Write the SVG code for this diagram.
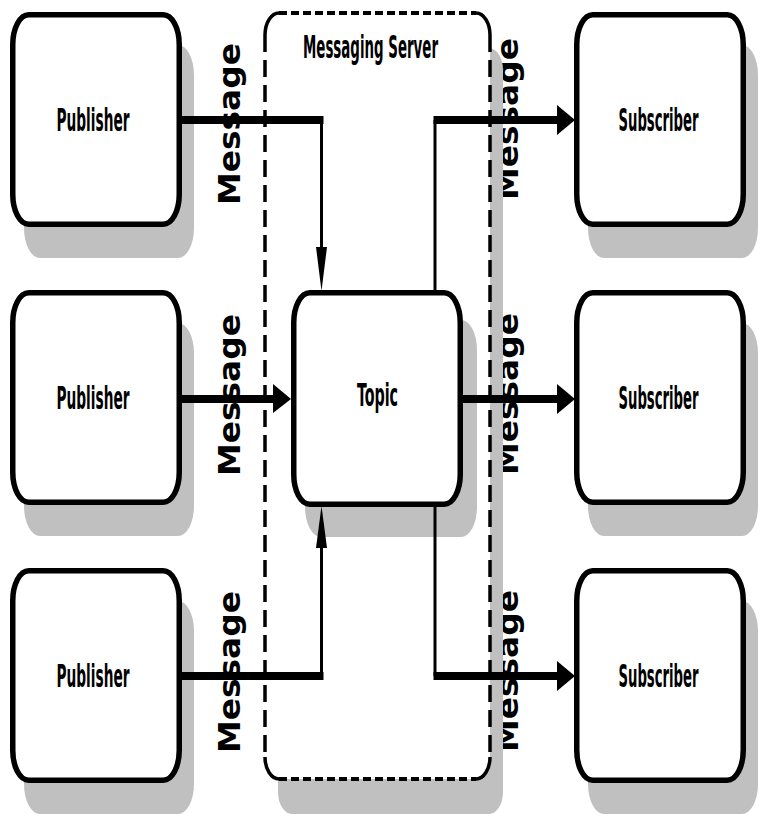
<svg xmlns="http://www.w3.org/2000/svg" width="772" height="831" viewBox="0 0 772 831">
<style>
.shadow{fill:#c0c0c0}
.box{fill:#fff;stroke:#000;stroke-width:5.5}
.lbl{font-family:"DejaVu Sans Condensed","Liberation Sans",Arial,sans-serif;font-stretch:condensed;font-weight:bold;font-size:32px;text-anchor:middle;fill:#000}
.msg{font-family:"DejaVu Sans",Verdana,sans-serif;font-weight:bold;font-size:30px;text-anchor:middle;fill:#000}
.thick{stroke:#000;stroke-width:8;fill:none}
.thin{stroke:#000;stroke-width:3;fill:none}
.ah{fill:#000}
.dots{stroke:#000;stroke-width:4;stroke-dasharray:8 4;fill:none}
.dash{stroke:#000;stroke-width:3.5;stroke-dasharray:17 8;fill:none}
.corner{stroke:#000;stroke-width:3.5;fill:none}
</style>

<g id="connector-labels">
  <text class="msg" transform="translate(240,124) rotate(-90)" textLength="162" lengthAdjust="spacingAndGlyphs">Message</text>
  <text class="msg" transform="translate(240,395) rotate(-90)" textLength="162" lengthAdjust="spacingAndGlyphs">Message</text>
  <text class="msg" transform="translate(240,672) rotate(-90)" textLength="162" lengthAdjust="spacingAndGlyphs">Message</text>
  <text class="msg" transform="translate(518,119) rotate(-90)" textLength="162" lengthAdjust="spacingAndGlyphs">Message</text>
  <text class="msg" transform="translate(518,394) rotate(-90)" textLength="162" lengthAdjust="spacingAndGlyphs">Message</text>
  <text class="msg" transform="translate(518,671) rotate(-90)" textLength="162" lengthAdjust="spacingAndGlyphs">Message</text>
</g>

<g id="messaging-server">
  <rect class="shadow" x="278" y="48" width="225" height="766" rx="14" ry="22"/>
  <rect x="265" y="13" width="225" height="766" rx="14" ry="22" fill="#fff"/>
  <path class="dots" d="M279,13 H476"/>
  <path class="dots" d="M279,779 H476"/>
  <path class="dash" d="M265,35 V757"/>
  <path class="dash" d="M490,35 V757"/>
  <path class="corner" d="M265,35 A14,22 0 0 1 279,13"/>
  <path class="corner" d="M476,13 A14,22 0 0 1 490,35"/>
  <path class="corner" d="M490,757 A14,22 0 0 1 476,779"/>
  <path class="corner" d="M279,779 A14,22 0 0 1 265,757"/>
  <text class="lbl" transform="translate(370.5,58) scale(0.5,1)" font-size="26" textLength="270" lengthAdjust="spacingAndGlyphs">Messaging Server</text>
</g>

<g id="publisher-1">
  <rect class="shadow" x="24" y="45" width="170" height="213" rx="16" ry="30"/>
  <rect class="box" x="12.75" y="14.75" width="166.5" height="209.5" rx="16" ry="30"/>
  <text class="lbl" transform="translate(93,131) scale(0.5,1)" textLength="146" lengthAdjust="spacingAndGlyphs">Publisher</text>
</g>
<g id="publisher-2">
  <rect class="shadow" x="24" y="323" width="170" height="213" rx="16" ry="30"/>
  <rect class="box" x="12.75" y="292.75" width="166.5" height="209.5" rx="16" ry="30"/>
  <text class="lbl" transform="translate(93,409) scale(0.5,1)" textLength="146" lengthAdjust="spacingAndGlyphs">Publisher</text>
</g>
<g id="publisher-3">
  <rect class="shadow" x="24" y="601" width="170" height="213" rx="16" ry="30"/>
  <rect class="box" x="12.75" y="570.75" width="166.5" height="209.5" rx="16" ry="30"/>
  <text class="lbl" transform="translate(93,687) scale(0.5,1)" textLength="146" lengthAdjust="spacingAndGlyphs">Publisher</text>
</g>

<g id="topic">
  <rect class="shadow" x="305" y="320" width="172" height="217" rx="16" ry="30"/>
  <rect class="box" x="293.75" y="292.75" width="166.5" height="211.5" rx="16" ry="30"/>
  <text class="lbl" transform="translate(377.5,406) scale(0.5,1)" textLength="82" lengthAdjust="spacingAndGlyphs">Topic</text>
</g>

<g id="subscriber-1">
  <rect class="shadow" x="588" y="45" width="170" height="213" rx="16" ry="30"/>
  <rect class="box" x="576.75" y="14.75" width="166.5" height="209.5" rx="16" ry="30"/>
  <text class="lbl" transform="translate(658.5,131) scale(0.5,1)" textLength="160" lengthAdjust="spacingAndGlyphs">Subscriber</text>
</g>
<g id="subscriber-2">
  <rect class="shadow" x="588" y="323" width="170" height="213" rx="16" ry="30"/>
  <rect class="box" x="576.75" y="292.75" width="166.5" height="209.5" rx="16" ry="30"/>
  <text class="lbl" transform="translate(658.5,409) scale(0.5,1)" textLength="160" lengthAdjust="spacingAndGlyphs">Subscriber</text>
</g>
<g id="subscriber-3">
  <rect class="shadow" x="588" y="601" width="170" height="213" rx="16" ry="30"/>
  <rect class="box" x="576.75" y="570.75" width="166.5" height="209.5" rx="16" ry="30"/>
  <text class="lbl" transform="translate(658.5,687) scale(0.5,1)" textLength="160" lengthAdjust="spacingAndGlyphs">Subscriber</text>
</g>

<g id="connectors">
  <path class="thick" d="M182,120 H323.5"/>
  <path class="thin" d="M321.5,120 V250"/>
  <polygon class="ah" points="316,247 327,247 321.5,291"/>

  <path class="thick" d="M182,399 H275"/>
  <polygon class="ah" points="273,384 273,413 291,399"/>

  <path class="thick" d="M182,676 H323.5"/>
  <path class="thin" d="M321.5,676 V545"/>
  <polygon class="ah" points="316,548 327,548 321.5,506"/>

  <path class="thin" d="M435,291 V120"/>
  <path class="thick" d="M433.5,120 H559"/>
  <polygon class="ah" points="557,105 557,135 575,120"/>

  <path class="thick" d="M463,399 H559"/>
  <polygon class="ah" points="557,384 557,414 575,399"/>

  <path class="thin" d="M435,506 V676"/>
  <path class="thick" d="M433.5,676 H559"/>
  <polygon class="ah" points="557,661 557,691 575,676"/>
</g>
</svg>
